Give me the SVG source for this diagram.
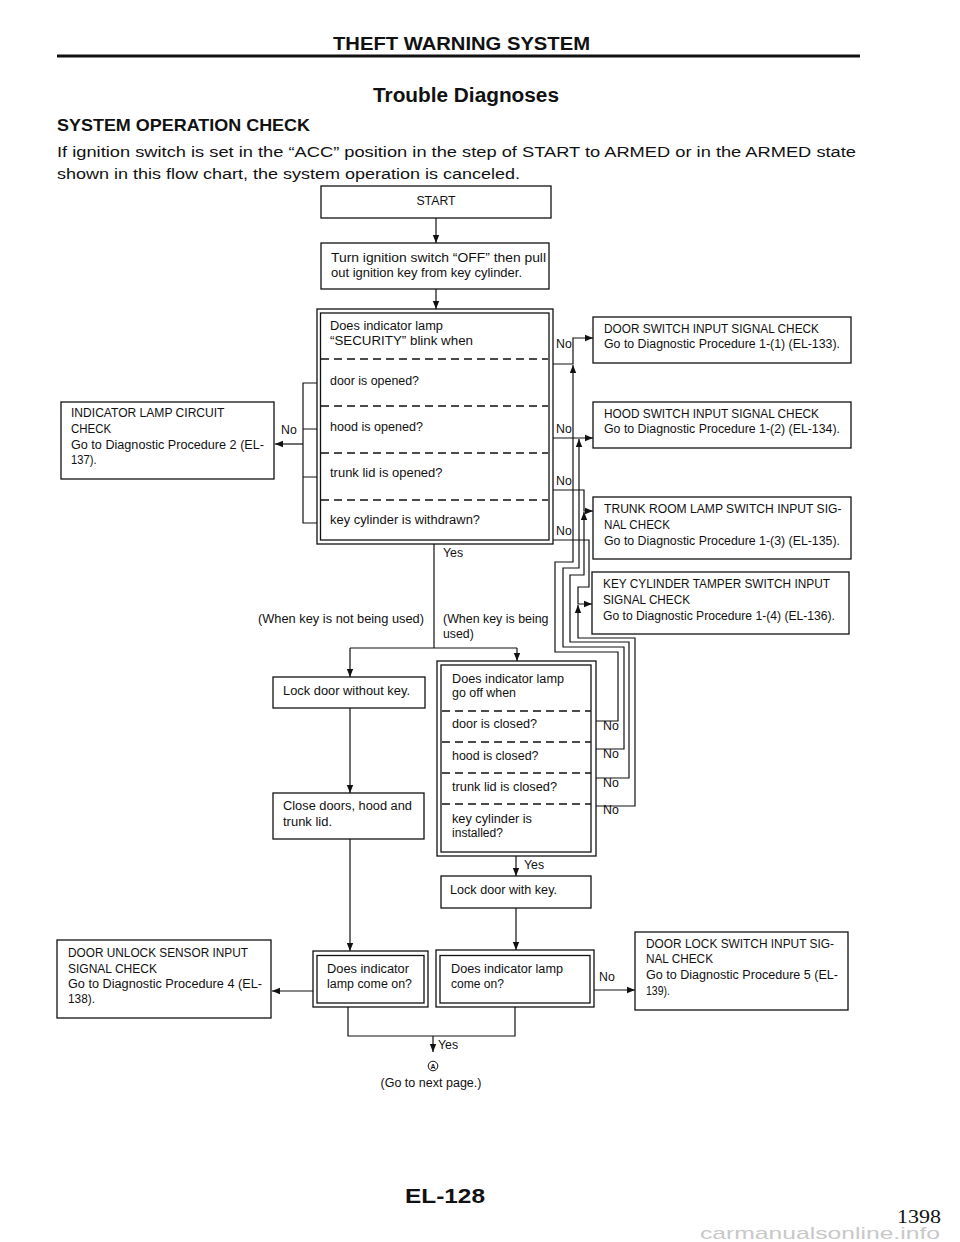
<svg xmlns="http://www.w3.org/2000/svg" width="960" height="1242" viewBox="0 0 960 1242">
<style>
text{font-family:"Liberation Sans",Arial,Helvetica,sans-serif;fill:#111}
.t{font-size:12.3px}
.h{font-weight:bold}
.bx{fill:#fff;stroke:#111;stroke-width:1.3}
.ln{fill:none;stroke:#111;stroke-width:1.2}
.ar{fill:none;stroke:#111;stroke-width:1.2;marker-end:url(#ah)}
.ds{stroke:#111;stroke-width:1.3;stroke-dasharray:8 5}
</style>
<defs>
<marker id="ah" viewBox="0 0 10 10" refX="10" refY="5" markerWidth="8" markerHeight="8" markerUnits="userSpaceOnUse" orient="auto">
<path d="M0,1 L10,5 L0,9 z" fill="#111"/>
</marker>
</defs>
<rect width="960" height="1242" fill="#fff"/>

<g id="header">
<text x="461.5" y="50" text-anchor="middle" class="h" font-size="19" textLength="257" lengthAdjust="spacingAndGlyphs">THEFT WARNING SYSTEM</text>
<path d="M57,56 H860" stroke="#111" stroke-width="3"/>
<text x="373" y="102" class="h" font-size="19.5" textLength="186" lengthAdjust="spacingAndGlyphs">Trouble Diagnoses</text>
<text x="57" y="131" class="h" font-size="17" textLength="253" lengthAdjust="spacingAndGlyphs">SYSTEM OPERATION CHECK</text>
<text x="57" y="157" font-size="15.5" textLength="799" lengthAdjust="spacingAndGlyphs">If ignition switch is set in the “ACC” position in the step of START to ARMED or in the ARMED state</text>
<text x="57" y="179" font-size="15.5" textLength="463" lengthAdjust="spacingAndGlyphs">shown in this flow chart, the system operation is canceled.</text>
</g>

<g id="connectors">
<path class="ar" d="M436,218 V243"/>
<path class="ar" d="M436,289 V309"/>
<path class="ln" d="M317,383 H303 V523 H317 M303,429 H317 M303,477 H317"/>
<path class="ar" d="M303,444 H275"/>
<path class="ar" d="M553,364 H573 V338 H593"/>
<path class="ar" d="M553,438 H593"/>
<path class="ar" d="M553,490 H584 V511 H593"/>
<path class="ar" d="M553,540 H589 V587 H578 V604 H592"/>
<path class="ar" d="M596,721 H618 V652 H555 V562 H573 V365"/>
<path class="ar" d="M596,749 H624 V647 H563 V568 H579 V439"/>
<path class="ar" d="M596,778 H629 V642 H570 V575 H584 V512"/>
<path class="ar" d="M596,806 H635 V638 H578 V605"/>
<path class="ln" d="M434,544 V648 M350,648 H517"/>
<path class="ar" d="M350,648 V677"/>
<path class="ar" d="M517,648 V661"/>
<path class="ar" d="M350,708 V793"/>
<path class="ar" d="M350,839 V951"/>
<path class="ar" d="M516,856 V876"/>
<path class="ar" d="M516,908 V950"/>
<path class="ar" d="M313,991 H272"/>
<path class="ar" d="M594,990 H635"/>
<path class="ln" d="M348,1007 V1036 H515 V1007"/>
<path class="ar" d="M433,1036 V1052"/>
<text x="443" y="557" class="t">Yes</text>
<text x="524" y="869" class="t">Yes</text>
<text x="438" y="1049" class="t">Yes</text>
<text x="281" y="434" class="t">No</text>
<text x="556" y="348" class="t">No</text>
<text x="556" y="433" class="t">No</text>
<text x="556" y="485" class="t">No</text>
<text x="556" y="535" class="t">No</text>
<text x="603" y="730" class="t">No</text>
<text x="603" y="758" class="t">No</text>
<text x="603" y="787" class="t">No</text>
<text x="603" y="814" class="t">No</text>
<text x="599" y="981" class="t">No</text>
<text x="424" y="623" class="t" text-anchor="end" textLength="166" lengthAdjust="spacingAndGlyphs">(When key is not being used)</text>
<text x="443" y="623" class="t" textLength="105.5" lengthAdjust="spacingAndGlyphs">(When key is being</text>
<text x="443" y="638" class="t">used)</text>
</g>

<g id="start">
<rect class="bx" x="321" y="186" width="230" height="32"/>
<text x="436" y="205" class="t" text-anchor="middle">START</text>
</g>

<g id="turn-off">
<rect class="bx" x="321" y="243" width="228" height="46"/>
<text x="331" y="262" class="t" textLength="215" lengthAdjust="spacingAndGlyphs">Turn ignition switch “OFF” then pull</text>
<text x="331" y="277" class="t" textLength="191" lengthAdjust="spacingAndGlyphs">out ignition key from key cylinder.</text>
</g>

<g id="check-blink">
<rect class="bx" x="317" y="309" width="236" height="235"/>
<rect class="bx" x="320.5" y="313" width="228.5" height="227"/>
<path class="ds" d="M321,359 H548 M321,406 H548 M321,453 H548 M321,500 H548"/>
<text x="330" y="330" class="t" textLength="113" lengthAdjust="spacingAndGlyphs">Does indicator lamp</text>
<text x="330" y="345" class="t" textLength="143" lengthAdjust="spacingAndGlyphs">“SECURITY” blink when</text>
<text x="330" y="385" class="t" textLength="89" lengthAdjust="spacingAndGlyphs">door is opened?</text>
<text x="330" y="431" class="t" textLength="93" lengthAdjust="spacingAndGlyphs">hood is opened?</text>
<text x="330" y="477" class="t" textLength="112.5" lengthAdjust="spacingAndGlyphs">trunk lid is opened?</text>
<text x="330" y="524" class="t" textLength="150" lengthAdjust="spacingAndGlyphs">key cylinder is withdrawn?</text>
</g>

<g id="indicator-lamp-check">
<rect class="bx" x="61" y="402" width="213" height="77"/>
<text x="71" y="417" class="t" textLength="153.5" lengthAdjust="spacingAndGlyphs">INDICATOR LAMP CIRCUIT</text>
<text x="71" y="433" class="t" textLength="40" lengthAdjust="spacingAndGlyphs">CHECK</text>
<text x="71" y="449" class="t" textLength="193" lengthAdjust="spacingAndGlyphs">Go to Diagnostic Procedure 2 (EL-</text>
<text x="71" y="464" class="t" textLength="25.5" lengthAdjust="spacingAndGlyphs">137).</text>
</g>

<g id="door-switch-check">
<rect class="bx" x="593" y="317" width="258" height="46"/>
<text x="604" y="333" class="t" textLength="215" lengthAdjust="spacingAndGlyphs">DOOR SWITCH INPUT SIGNAL CHECK</text>
<text x="604" y="348" class="t" textLength="236" lengthAdjust="spacingAndGlyphs">Go to Diagnostic Procedure 1-(1) (EL-133).</text>
</g>

<g id="hood-switch-check">
<rect class="bx" x="593" y="402" width="258" height="46"/>
<text x="604" y="418" class="t" textLength="215" lengthAdjust="spacingAndGlyphs">HOOD SWITCH INPUT SIGNAL CHECK</text>
<text x="604" y="433" class="t" textLength="236" lengthAdjust="spacingAndGlyphs">Go to Diagnostic Procedure 1-(2) (EL-134).</text>
</g>

<g id="trunk-switch-check">
<rect class="bx" x="593" y="497" width="258" height="62"/>
<text x="604" y="513" class="t" textLength="237.5" lengthAdjust="spacingAndGlyphs">TRUNK ROOM LAMP SWITCH INPUT SIG-</text>
<text x="604" y="529" class="t" textLength="66" lengthAdjust="spacingAndGlyphs">NAL CHECK</text>
<text x="604" y="545" class="t" textLength="236" lengthAdjust="spacingAndGlyphs">Go to Diagnostic Procedure 1-(3) (EL-135).</text>
</g>

<g id="key-cylinder-check">
<rect class="bx" x="592" y="572" width="257" height="62"/>
<text x="603" y="588" class="t" textLength="227" lengthAdjust="spacingAndGlyphs">KEY CYLINDER TAMPER SWITCH INPUT</text>
<text x="603" y="604" class="t" textLength="87" lengthAdjust="spacingAndGlyphs">SIGNAL CHECK</text>
<text x="603" y="620" class="t" textLength="232" lengthAdjust="spacingAndGlyphs">Go to Diagnostic Procedure 1-(4) (EL-136).</text>
</g>

<g id="lock-without-key">
<rect class="bx" x="273" y="677" width="152" height="31"/>
<text x="283" y="695" class="t" textLength="127" lengthAdjust="spacingAndGlyphs">Lock door without key.</text>
</g>

<g id="close-doors">
<rect class="bx" x="273" y="793" width="151" height="46"/>
<text x="283" y="810" class="t" textLength="129" lengthAdjust="spacingAndGlyphs">Close doors, hood and</text>
<text x="283" y="826" class="t" textLength="49" lengthAdjust="spacingAndGlyphs">trunk lid.</text>
</g>

<g id="check-go-off">
<rect class="bx" x="437" y="661" width="159" height="195"/>
<rect class="bx" x="441" y="665" width="150" height="187"/>
<path class="ds" d="M442,711 H591 M442,742 H591 M442,773 H591 M442,804 H591"/>
<text x="452" y="683" class="t" textLength="112" lengthAdjust="spacingAndGlyphs">Does indicator lamp</text>
<text x="452" y="697" class="t" textLength="64" lengthAdjust="spacingAndGlyphs">go off when</text>
<text x="452" y="728" class="t" textLength="85" lengthAdjust="spacingAndGlyphs">door is closed?</text>
<text x="452" y="760" class="t" textLength="86.5" lengthAdjust="spacingAndGlyphs">hood is closed?</text>
<text x="452" y="791" class="t" textLength="105" lengthAdjust="spacingAndGlyphs">trunk lid is closed?</text>
<text x="452" y="823" class="t" textLength="80" lengthAdjust="spacingAndGlyphs">key cylinder is</text>
<text x="452" y="837" class="t" textLength="51" lengthAdjust="spacingAndGlyphs">installed?</text>
</g>

<g id="lock-with-key">
<rect class="bx" x="441" y="876" width="150" height="32"/>
<text x="450" y="894" class="t" textLength="107" lengthAdjust="spacingAndGlyphs">Lock door with key.</text>
</g>

<g id="lamp-on-1">
<rect class="bx" x="313" y="951" width="115" height="56"/>
<rect class="bx" x="317" y="955.5" width="107" height="47.5"/>
<text x="327" y="973" class="t" textLength="82" lengthAdjust="spacingAndGlyphs">Does indicator</text>
<text x="327" y="988" class="t" textLength="85" lengthAdjust="spacingAndGlyphs">lamp come on?</text>
</g>

<g id="lamp-on-2">
<rect class="bx" x="436" y="950" width="158" height="57"/>
<rect class="bx" x="440" y="955.5" width="150" height="47.5"/>
<text x="451" y="973" class="t" textLength="112" lengthAdjust="spacingAndGlyphs">Does indicator lamp</text>
<text x="451" y="988" class="t" textLength="53" lengthAdjust="spacingAndGlyphs">come on?</text>
</g>

<g id="door-unlock-check">
<rect class="bx" x="57" y="940" width="214" height="78"/>
<text x="68" y="957" class="t" textLength="180" lengthAdjust="spacingAndGlyphs">DOOR UNLOCK SENSOR INPUT</text>
<text x="68" y="973" class="t" textLength="89" lengthAdjust="spacingAndGlyphs">SIGNAL CHECK</text>
<text x="68" y="988" class="t" textLength="194" lengthAdjust="spacingAndGlyphs">Go to Diagnostic Procedure 4 (EL-</text>
<text x="68" y="1003" class="t" textLength="27" lengthAdjust="spacingAndGlyphs">138).</text>
</g>

<g id="door-lock-check">
<rect class="bx" x="635" y="932" width="213" height="78"/>
<text x="646" y="948" class="t" textLength="188" lengthAdjust="spacingAndGlyphs">DOOR LOCK SWITCH INPUT SIG-</text>
<text x="646" y="963" class="t" textLength="67" lengthAdjust="spacingAndGlyphs">NAL CHECK</text>
<text x="646" y="979" class="t" textLength="192" lengthAdjust="spacingAndGlyphs">Go to Diagnostic Procedure 5 (EL-</text>
<text x="646" y="995" class="t" textLength="24" lengthAdjust="spacingAndGlyphs">139).</text>
</g>

<g id="next-page">
<circle cx="433" cy="1066" r="4.8" fill="#fff" stroke="#111" stroke-width="1"/>
<text x="433" y="1068.6" text-anchor="middle" class="h" font-size="7">A</text>
<text x="431" y="1087" text-anchor="middle" class="t" textLength="101" lengthAdjust="spacingAndGlyphs">(Go to next page.)</text>
</g>

<g id="footer">
<text x="445" y="1203" text-anchor="middle" class="h" font-size="20" textLength="80" lengthAdjust="spacingAndGlyphs">EL-128</text>
<text x="897" y="1223" style="font-family:'Liberation Serif','Times New Roman',serif" font-size="19" textLength="44" lengthAdjust="spacingAndGlyphs">1398</text>
<text x="700" y="1239" font-size="17" style="fill:#c8c8c8" textLength="240" lengthAdjust="spacingAndGlyphs">carmanualsonline.info</text>
</g>
</svg>
